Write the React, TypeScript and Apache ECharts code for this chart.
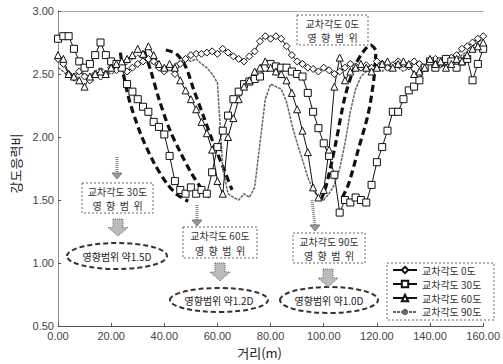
import React, { useEffect, useRef } from "react";
import * as echarts from "echarts";

// distance (m)
const distances = [
  0, 2, 4, 6, 8, 10, 12, 14, 16, 18,
  20, 22, 24, 26, 28, 30, 32, 34, 36, 38,
  40, 42, 44, 46, 48, 50, 52, 54, 56, 58,
  60, 62, 64, 66, 68, 70, 72, 74, 76, 78,
  80, 82, 84, 86, 88, 90, 92, 94, 96, 98,
  100, 102, 104, 106, 108, 110, 112, 114, 116, 118,
  120, 122, 124, 126, 128, 130, 132, 134, 136, 138,
  140, 142, 144, 146, 148, 150, 152, 154, 156, 158,
  160,
];

const angle0 = [
  2.62, 2.58, 2.50, 2.47, 2.52, 2.48, 2.45, 2.50, 2.48, 2.50,
  2.55, 2.53, 2.55, 2.52, 2.55, 2.58, 2.60, 2.62, 2.60, 2.55,
  2.52, 2.55, 2.50, 2.58, 2.62, 2.65, 2.66, 2.66, 2.67, 2.68,
  2.66, 2.70, 2.67, 2.64, 2.62, 2.60, 2.64, 2.68, 2.76, 2.80,
  2.78, 2.80, 2.78, 2.72, 2.65, 2.60, 2.58, 2.55, 2.54, 2.52,
  2.55, 2.53, 2.50, 2.52, 2.55, 2.58, 2.56, 2.55, 2.57, 2.55,
  2.60, 2.58, 2.55, 2.57, 2.60, 2.58, 2.56, 2.60, 2.58, 2.55,
  2.60, 2.62, 2.58, 2.60, 2.63, 2.65, 2.70, 2.72, 2.75, 2.78,
  2.80,
];

const angle30 = [
  2.78, 2.80, 2.80, 2.70, 2.60, 2.55, 2.58, 2.65, 2.75, 2.65,
  2.60, 2.58, 2.55, 2.42, 2.36, 2.30, 2.24, 2.20, 2.12, 2.08,
  2.02, 1.85, 1.65, 1.58, 1.55, 1.60, 1.55, 1.58, 1.55, 1.72,
  1.92, 2.05, 2.17, 2.30, 2.36, 2.42, 2.44, 2.46, 2.48, 2.55,
  2.58, 2.56, 2.55, 2.55, 2.52, 2.50, 2.48, 2.35, 2.20, 2.07,
  1.95, 1.85, 1.70, 1.40, 1.50, 1.48, 1.52, 1.50, 1.48, 1.62,
  1.80, 1.92, 2.05, 2.20, 2.20, 2.30, 2.37, 2.40, 2.45, 2.55,
  2.60, 2.55, 2.60, 2.62, 2.60, 2.55, 2.60, 2.62, 2.45, 2.58,
  2.70,
];

const angle60 = [
  2.65, 2.62, 2.50, 2.48, 2.45, 2.40, 2.48, 2.50, 2.52, 2.50,
  2.55, 2.58, 2.60, 2.62, 2.65, 2.70, 2.66, 2.72, 2.65, 2.58,
  2.55, 2.58, 2.55, 2.45, 2.37, 2.30, 2.22, 2.12, 2.03, 1.90,
  1.65, 1.55, 2.00, 2.15, 2.30, 2.40, 2.45, 2.52, 2.55, 2.60,
  2.55, 2.52, 2.50, 2.45, 2.35, 2.22, 2.05, 1.88, 1.60, 1.52,
  1.58, 1.90, 2.40, 2.63, 2.45, 2.52, 2.55, 2.58, 2.55, 2.52,
  2.55, 2.58, 2.60, 2.55, 2.58, 2.60, 2.58, 2.50, 2.52, 2.55,
  2.62, 2.58, 2.60, 2.55, 2.58, 2.62, 2.60, 2.65, 2.70, 2.72,
  2.75,
];

const angle90 = [
  2.55, 2.52, 2.48, 2.50, 2.52, 2.50, 2.48, 2.52, 2.55, 2.52,
  2.50, 2.52, 2.55, 2.58, 2.62, 2.65, 2.62, 2.60, 2.58, 2.55,
  2.52, 2.55, 2.58, 2.60, 2.62, 2.60, 2.62, 2.58, 2.55, 2.50,
  2.43, 1.75, 1.55, 1.52, 1.50, 1.55, 1.52, 1.60, 1.95, 2.30,
  2.42, 2.40, 2.38, 2.28, 2.10, 1.95, 1.82, 1.68, 1.58, 1.52,
  1.50, 1.55, 1.62, 1.75, 1.95, 2.20, 2.38, 2.48, 2.52, 2.55,
  2.55, 2.52, 2.55, 2.58, 2.55, 2.52, 2.55, 2.58, 2.60, 2.55,
  2.58, 2.60, 2.55, 2.58, 2.62, 2.60, 2.65, 2.68, 2.72, 2.75,
  2.78,
];

// hand-drawn bold dashed envelope curves [distance, ratio]
const envelopeA = [[23.5, 2.67], [24.6, 2.5], [27, 2.28], [31, 2.03], [36, 1.8], [41, 1.63], [45, 1.54], [49, 1.49]];
const envelopeB = [[32.5, 2.68], [35, 2.52], [38, 2.3], [42, 2.06], [46, 1.88], [50, 1.72], [54, 1.59], [57, 1.52]];
const envelopeC = [[40.6, 2.69], [44.5, 2.66], [48, 2.56], [51, 2.38], [55, 2.15], [58.5, 1.95], [62.5, 1.74], [65.5, 1.58]];
const envelopeD = [[99, 1.5], [101, 1.62], [104.5, 1.95], [108, 2.32], [111.5, 2.55], [114.6, 2.67], [117.6, 2.73], [120, 2.68]];
const envelopeE = [[107, 1.52], [109.4, 1.63], [113, 1.9], [116.8, 2.19], [118.8, 2.45], [119.6, 2.66]];

const seriesNames = ["교차각도 0도", "교차각도 30도", "교차각도 60도", "교차각도 90도"];
const boxLabels = ["교차각도 0도", "교차각도 30도", "교차각도 60도", "교차각도 90도"];
const rangeLabels = ["영향범위 약1.5D", "영향범위 약1.2D", "영향범위 약1.0D"];

const KR = "'Noto Sans CJK KR', 'Noto Sans', sans-serif";
const NUM = "'Liberation Sans', Arial, sans-serif";

function zip(xs: number[], ys: number[]) {
  return xs.map((x, i) => [x, ys[i]]);
}

function textBox(x: number, y: number, w: number, h: number, line1: string) {
  return {
    type: "group",
    z: 100,
    children: [
      {
        type: "rect",
        shape: { x, y, width: w, height: h },
        style: { fill: "#fff", stroke: "#666", lineWidth: 1, lineDash: [2, 2] },
      },
      {
        type: "text",
        style: {
          x: x + w / 2, y: y + 8.5, text: line1, align: "center", verticalAlign: "middle",
          font: `10px ${KR}`, fill: "#333",
        },
      },
      {
        type: "text",
        style: {
          x: x + w / 2, y: y + h - 8, text: "영  향  범  위", align: "center", verticalAlign: "middle",
          font: `10px ${KR}`, fill: "#333",
        },
      },
    ],
  };
}

function ellipse(cx: number, cy: number, rx: number, ry: number, label: string) {
  return {
    type: "group",
    z: 100,
    children: [
      {
        type: "ellipse",
        shape: { cx, cy, rx, ry },
        style: { fill: "#fff", stroke: "#333", lineWidth: 2, lineDash: [5, 3] },
      },
      {
        type: "text",
        style: {
          x: cx, y: cy, text: label, align: "center", verticalAlign: "middle",
          font: `10px ${KR}`, fill: "#222",
        },
      },
    ],
  };
}

function blockArrow(cx: number, top: number, bottom: number) {
  const mid = top + (bottom - top) * 0.5;
  return {
    type: "polygon",
    z: 100,
    shape: {
      points: [
        [cx - 5, top], [cx + 5, top], [cx + 5, mid], [cx + 10, mid],
        [cx, bottom], [cx - 10, mid], [cx - 5, mid],
      ],
    },
    style: { fill: "#bbb", stroke: "#666", lineWidth: 1, lineDash: [1, 1] },
  };
}

function smallArrow(x1: number, y1: number, x2: number, y2: number) {
  return {
    type: "group",
    z: 100,
    children: [
      {
        type: "line",
        shape: { x1, y1, x2, y2: y2 - 5 },
        style: { stroke: "#888", lineWidth: 3, lineDash: [1, 1] },
      },
      {
        type: "polygon",
        shape: { points: [[x2 - 5, y2 - 6], [x2 + 5, y2 - 6], [x2, y2]] },
        style: { fill: "#999", stroke: "#777", lineWidth: 1 },
      },
    ],
  };
}

function envelopeSeries(data: number[][]) {
  return {
    type: "line",
    data,
    smooth: 0.3,
    symbol: "none",
    silent: true,
    z: 1,
    lineStyle: { color: "#111", width: 3.2, type: [7, 4] },
  };
}

export default function App() {
  const ref = useRef<HTMLDivElement>(null);

  useEffect(() => {
    if (!ref.current) return;
    const chart = echarts.init(ref.current, null, { renderer: "svg" });
    const markerSeries = (name: string, data: number[], symbol: string) => ({
      name,
      type: "line",
      data: zip(distances, data),
      symbol,
      symbolSize: 7,
      z: 3,
      itemStyle: { color: "#fff", borderColor: "#111", borderWidth: 1 },
      lineStyle: { color: "#111", width: 1 },
    });
    chart.setOption({
      animation: false,
      backgroundColor: "#fff",
      grid: { left: 58, right: 12, top: 11, bottom: 38 },
      xAxis: [
        {
          type: "value", min: 0, max: 160, interval: 20,
          axisLine: { lineStyle: { color: "#555" } },
          axisTick: { inside: true, length: 3, lineStyle: { color: "#555" } },
          axisLabel: {
            formatter: (v: number) => v.toFixed(2), color: "#444", fontSize: 11,
            margin: 4, fontFamily: NUM,
          },
          splitLine: { show: false },
          name: "거리(m)", nameLocation: "middle", nameGap: 19,
          nameTextStyle: { fontSize: 13, color: "#222", fontFamily: KR, padding: [0, 22, 0, 0] },
        },
        {
          type: "value", position: "top", min: 0, max: 160,
          axisLine: { show: true, lineStyle: { color: "#999", type: "dotted" } },
          axisTick: { show: false }, axisLabel: { show: false }, splitLine: { show: false },
        },
      ],
      yAxis: [
        {
          type: "value", min: 0.5, max: 3, interval: 0.5,
          axisLine: { show: true, lineStyle: { color: "#555" } },
          axisTick: { show: true, inside: true, length: 3, lineStyle: { color: "#555" } },
          axisLabel: {
            formatter: (v: number) => v.toFixed(2), color: "#444", fontSize: 11,
            margin: 4, fontFamily: NUM,
          },
          splitLine: { show: false },
          name: "강도응력비", nameLocation: "middle", nameGap: 36,
          nameTextStyle: { fontSize: 13, color: "#222", fontFamily: KR, padding: [0, 0, 0, 10] },
        },
        {
          type: "value", position: "right", min: 0.5, max: 3,
          axisLine: { show: true, lineStyle: { color: "#999", type: "dotted" } },
          axisTick: { show: false }, axisLabel: { show: false }, splitLine: { show: false },
        },
      ],
      legend: {
        data: seriesNames,
        orient: "vertical",
        left: 392, top: 265,
        itemGap: 4, itemWidth: 24, itemHeight: 8,
        padding: 0,
        z: 110,
        textStyle: { fontSize: 10, color: "#333", fontFamily: KR },
      },
      series: [
        envelopeSeries(envelopeA),
        envelopeSeries(envelopeB),
        envelopeSeries(envelopeC),
        envelopeSeries(envelopeD),
        envelopeSeries(envelopeE),
        markerSeries(seriesNames[0], angle0, "diamond"),
        markerSeries(seriesNames[1], angle30, "rect"),
        markerSeries(seriesNames[2], angle60, "triangle"),
        {
          name: seriesNames[3],
          type: "line",
          data: zip(distances, angle90),
          symbol: "none",
          z: 2,
          itemStyle: { color: "#666" },
          lineStyle: { color: "#666", width: 1.5, type: [3, 1] },
        },
      ],
      graphic: [
        textBox(297, 15, 71, 30, boxLabels[0]),
        textBox(82, 183, 71, 30, boxLabels[1]),
        textBox(183, 227, 74, 31, boxLabels[2]),
        textBox(293, 233, 72, 30, boxLabels[3]),
        smallArrow(117, 157, 117, 179),
        smallArrow(197, 205, 197, 226),
        smallArrow(312, 200, 315, 231),
        blockArrow(118, 219, 236),
        blockArrow(220, 263, 281),
        blockArrow(328, 269, 287),
        ellipse(117, 256, 50, 13, rangeLabels[0]),
        ellipse(219, 300, 49, 12, rangeLabels[1]),
        ellipse(329, 300, 49, 13, rangeLabels[2]),
        {
          type: "rect",
          z: 99,
          shape: { x: 387, y: 263, width: 107, height: 57 },
          style: { fill: "#fff", stroke: "#666", lineWidth: 1, lineDash: [2, 2] },
        },
      ],
    });
    return () => chart.dispose();
  }, []);

  return (
    <div
      ref={ref}
      style={{ position: "fixed", left: 0, top: 0, width: 503, height: 364, background: "#fff" }}
    />
  );
}
